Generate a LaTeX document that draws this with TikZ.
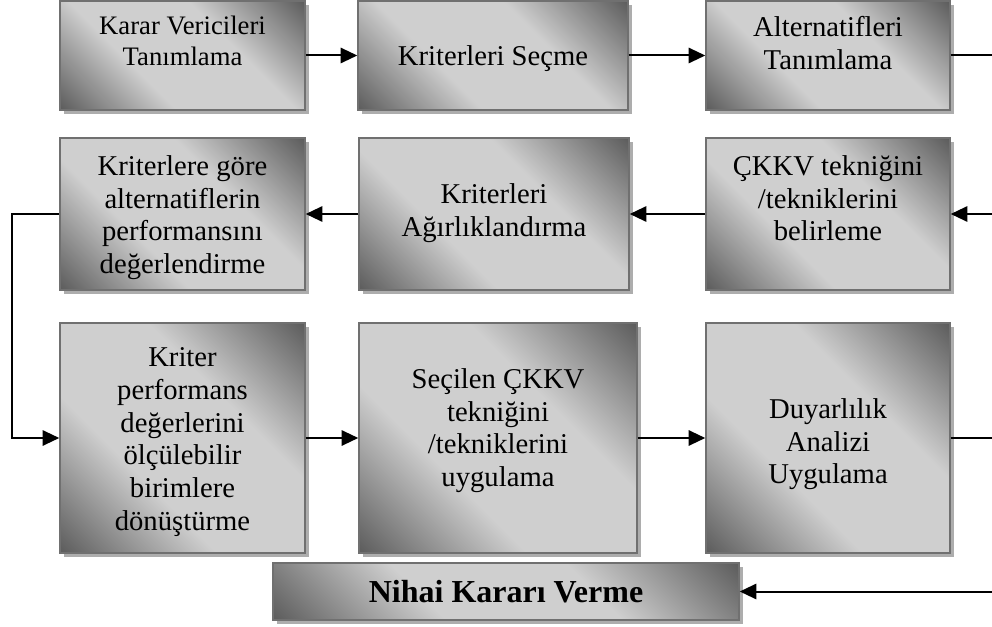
\documentclass[tikz,border=0pt]{standalone}
\usepackage{fontspec}
\setmainfont{Liberation Serif}
\usetikzlibrary{arrows.meta,shadows}
\definecolor{gdark}{HTML}{5E5E5E}
\definecolor{glight}{HTML}{CFCFCF}
\definecolor{bord}{HTML}{707070}
\definecolor{shad}{HTML}{ADADAD}
\pgfdeclarehorizontalshading{boxshade}{100bp}{color(0bp)=(gdark); color(15bp)=(gdark); color(38bp)=(glight); color(62bp)=(glight); color(85bp)=(gdark); color(100bp)=(gdark)}
\tikzset{
  box/.style={shade, shading=boxshade, shading angle=45, draw=bord, line width=1.1pt,
    drop shadow={shadow xshift=3pt, shadow yshift=-3pt, fill=shad, opacity=1}, inner sep=0pt},
  txt/.style={font=\fontsize{21.5pt}{24.5pt}\selectfont, align=center, anchor=north, inner sep=0pt},
  smalltxt/.style={font=\fontsize{20pt}{23.2pt}\selectfont, align=center, anchor=north, inner sep=0pt},
  bigtxt/.style={font=\fontsize{24pt}{28pt}\selectfont\bfseries, align=center, anchor=north, inner sep=0pt},
  ln/.style={line width=1.5pt},
  arr/.style={line width=1.5pt, -{Triangle[length=12.5pt,width=11.5pt]}}
}
\begin{document}
\begin{tikzpicture}[x=0.75pt, y=-0.75pt]
\useasboundingbox (0,0) rectangle (992,627);
% row 1
\node[box, minimum width=183.75pt, minimum height=81.75pt] (a1) at (182.5,55.5) {};
\node[box, minimum width=202.5pt, minimum height=81.75pt] (a2) at (493,55.5) {};
\node[box, minimum width=183pt, minimum height=81.75pt] (a3) at (828,55.5) {};
% row 2
\node[box, minimum width=183.75pt, minimum height=114pt] (b1) at (182.5,214) {};
\node[box, minimum width=202.5pt, minimum height=114pt] (b2) at (494,214) {};
\node[box, minimum width=183pt, minimum height=114pt] (b3) at (828,214) {};
% row 3
\node[box, minimum width=183.75pt, minimum height=172.5pt] (c1) at (182.5,438) {};
\node[box, minimum width=208.5pt, minimum height=172.5pt] (c2) at (498,438) {};
\node[box, minimum width=183pt, minimum height=172.5pt] (c3) at (828,438) {};
% final
\node[box, minimum width=349.5pt, minimum height=42.75pt] (d) at (506,591.5) {};

% texts
\node[smalltxt] (ta1) at (182.5,16) {Karar Vericileri\\Tanımlama};
\node[txt] (ta2) at (493,45.5) {Kriterleri Seçme};
\node[txt] (ta3) at (828,16.5) {Alternatifleri\\Tanımlama};
\node[txt] (tb1) at (182.5,155.5) {Kriterlere göre\\alternatiflerin\\performansını\\değerlendirme};
\node[txt] (tb2) at (494,183.5) {Kriterleri\\Ağırlıklandırma};
\node[txt] (tb3) at (828,155.5) {ÇKKV tekniğini\\/tekniklerini\\belirleme};
\node[txt] (tc1) at (182.5,347.5) {Kriter\\performans\\değerlerini\\ölçülebilir\\birimlere\\dönüştürme};
\node[txt] (tc2) at (498,368.5) {Seçilen ÇKKV\\tekniğini\\/tekniklerini\\uygulama};
\node[txt] (tc3) at (828,398.5) {Duyarlılık\\Analizi\\Uygulama};
\node[bigtxt] (td) at (506,580) {Nihai Kararı Verme};

% free ends at the right edge and the left bend
\coordinate (r1) at (996,55.5);
\coordinate (r2) at (996,214);
\coordinate (r3) at (996,438);
\coordinate (r4) at (996,591.5);
\coordinate (lk) at (12,214);

% connectors
\draw[arr] (a1.east) -- (a2.west);
\draw[arr] (a2.east) -- (a3.west);
\draw[ln] (a3.east) -- (r1);
\draw[arr] (r2) -- (b3.east);
\draw[arr] (b3.west) -- (b2.east);
\draw[arr] (b2.west) -- (b1.east);
\draw[arr] (b1.west) -- (lk) |- (c1.west);
\draw[arr] (c1.east) -- (c2.west);
\draw[arr] (c2.east) -- (c3.west);
\draw[ln] (c3.east) -- (r3);
\draw[arr] (r4) -- (d.east);
\end{tikzpicture}
\end{document}
